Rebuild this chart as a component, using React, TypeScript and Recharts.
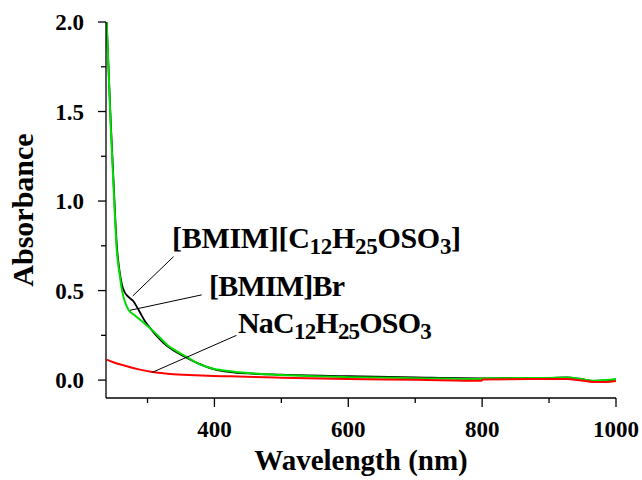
import React from "react";
import {
    LineChart,
    Line,
    XAxis,
    YAxis,
    ReferenceLine
} from "recharts";

// [BMIM][C12H25OSO3] (black)
const wlC12 = [239, 245, 250, 254, 258, 262, 266, 270, 279, 287, 296, 304, 314, 324, 339, 354, 374, 400, 424, 450, 500, 600, 700, 800, 900, 927, 945, 966, 985, 1000];
const absC12 = [2.0, 1.45, 1.05, 0.76, 0.615, 0.53, 0.49, 0.47, 0.44, 0.39, 0.33, 0.29, 0.245, 0.207, 0.165, 0.133, 0.096, 0.06, 0.045, 0.037, 0.03, 0.022, 0.015, 0.01, 0.012, 0.015, 0.008, -0.004, -0.002, 0.004];

// [BMIM]Br (green)
const wlBr = [239, 245, 250, 254, 258, 262, 266, 272, 280, 289, 299, 309, 319, 329, 344, 359, 379, 400, 424, 450, 500, 600, 700, 799, 801, 900, 927, 945, 966, 985, 1000];
const absBr = [2.0, 1.42, 1.02, 0.73, 0.6, 0.5, 0.44, 0.39, 0.365, 0.337, 0.305, 0.272, 0.235, 0.198, 0.16, 0.128, 0.086, 0.062, 0.05, 0.04, 0.028, 0.016, 0.011, 0.006, 0.01, 0.012, 0.014, 0.008, -0.004, 0.0, 0.006];

// NaC12H25OSO3 (red)
const wlNa = [239, 250, 269, 287, 307, 330, 354, 390, 424, 460, 500, 600, 700, 799, 801, 900, 927, 948, 966, 985, 1000];
const absNa = [0.114, 0.098, 0.077, 0.06, 0.045, 0.036, 0.03, 0.024, 0.021, 0.017, 0.013, 0.006, 0.002, -0.004, 0.004, 0.006, 0.006, -0.002, -0.01, -0.01, -0.005];

const xTicks = [300, 400, 500, 600, 700, 800, 900, 1000];
const xLabels = [400, 600, 800, 1000];
const yTicks = [0, 0.25, 0.5, 0.75, 1.0, 1.25, 1.5, 1.75, 2.0];
const yLabels = [0, 0.5, 1.0, 1.5, 2.0];

// leader lines: [x1, y1, x2, y2] in data units
const leaderC12 = [278, 0.47, 339, 0.69];
const leaderBr = [274, 0.39, 381, 0.476];
const leaderNa = [307, 0.043, 433, 0.25];

const font = "'Liberation Serif', 'Times New Roman', serif";

const toPoints = (xs: number[], ys: number[]) =>
    xs.map((x, i) => ({ x, y: ys[i] }));

const XTick = (props: any) => {
    const { x, y, payload } = props;
    const major = xLabels.includes(payload.value);
    return (
        <g>
            <line x1={x} x2={x} y1={y} y2={y + (major ? 9 : 5)} stroke="#000" strokeWidth={1.3} />
            {major && (
                <text x={x} y={y + 39} textAnchor="middle" fontFamily={font}
                      fontWeight="bold" fontSize={23} fill="#000">
                    {payload.value}
                </text>
            )}
        </g>
    );
};

const YTick = (props: any) => {
    const { x, y, payload } = props;
    const major = yLabels.includes(payload.value);
    return (
        <g>
            <line x1={x - (major ? 8 : 5)} x2={x} y1={y} y2={y} stroke="#000" strokeWidth={1.3} />
            {major && (
                <text x={x - 22} y={y + 8} textAnchor="end" fontFamily={font}
                      fontWeight="bold" fontSize={23} fill="#000">
                    {payload.value.toFixed(1)}
                </text>
            )}
        </g>
    );
};

const sub = { fontSize: 23 };

export default function App() {
    return (
        <div style={{ position: "absolute", left: 0, top: 0, width: 642, height: 480, background: "#fff" }}>
            <LineChart width={642} height={480}
                       margin={{ top: 22, right: 26, bottom: 0, left: 0 }}>
                <XAxis type="number" dataKey="x" domain={[238, 1000]} allowDataOverflow
                       ticks={xTicks} interval={0} tickSize={0} tickMargin={0}
                       tickLine={false} tick={<XTick />} height={82}
                       axisLine={{ stroke: "#000", strokeWidth: 1.3 }}
                       label={{
                           content: (p: any) => (
                               <text x={p.viewBox.x + p.viewBox.width / 2} y={p.viewBox.y + 72}
                                     textAnchor="middle" fontFamily={font} fontWeight="bold"
                                     fontSize={29} fill="#000">
                                   Wavelength (nm)
                               </text>
                           )
                       }} />
                <YAxis type="number" domain={[-0.1, 2.0]} allowDataOverflow
                       ticks={yTicks} interval={0} tickSize={0} tickMargin={0}
                       tickLine={false} tick={<YTick />} width={106}
                       axisLine={{ stroke: "#000", strokeWidth: 1.3 }}
                       label={{
                           content: (p: any) => {
                               const cx = p.viewBox.x + 33;
                               const cy = p.viewBox.y + p.viewBox.height / 2;
                               return (
                                   <text x={cx} y={cy} transform={`rotate(-90 ${cx} ${cy})`}
                                         textAnchor="middle" fontFamily={font} fontWeight="bold"
                                         fontSize={30} fill="#000">
                                       Absorbance
                                   </text>
                               );
                           }
                       }} />

                <Line data={toPoints(wlC12, absC12)} dataKey="y" type="monotone"
                      stroke="#000" strokeWidth={1.8} dot={false} isAnimationActive={false} />
                <Line data={toPoints(wlBr, absBr)} dataKey="y" type="monotone"
                      stroke="#00dd00" strokeWidth={2} dot={false} isAnimationActive={false} />
                <Line data={toPoints(wlNa, absNa)} dataKey="y" type="monotone"
                      stroke="#ff0000" strokeWidth={2} dot={false} isAnimationActive={false} />

                {[leaderC12, leaderBr, leaderNa].map((l, i) => (
                    <ReferenceLine key={i} stroke="#000" strokeWidth={1}
                                   segment={[{ x: l[0], y: l[1] }, { x: l[2], y: l[3] }]} />
                ))}
            </LineChart>

            <svg width={642} height={480} style={{ position: "absolute", left: 0, top: 0, pointerEvents: "none" }}>
                <g fontFamily={font} fontWeight="bold" fontSize={30} fill="#000" letterSpacing={-0.8}>
                    <text x={172} y={248} letterSpacing={-0.3}>
                        [BMIM][C<tspan {...sub} dy={6}>12</tspan><tspan dy={-6}>H</tspan>
                        <tspan {...sub} dy={6}>25</tspan><tspan dy={-6}>OSO</tspan>
                        <tspan {...sub} dy={6}>3</tspan><tspan dy={-6}>]</tspan>
                    </text>
                    <text x={209} y={296}>[BMIM]Br</text>
                    <text x={238} y={333}>
                        NaC<tspan {...sub} dy={6}>12</tspan><tspan dy={-6}>H</tspan>
                        <tspan {...sub} dy={6}>25</tspan><tspan dy={-6}>OSO</tspan>
                        <tspan {...sub} dy={6}>3</tspan>
                    </text>
                </g>
            </svg>
        </div>
    );
}
